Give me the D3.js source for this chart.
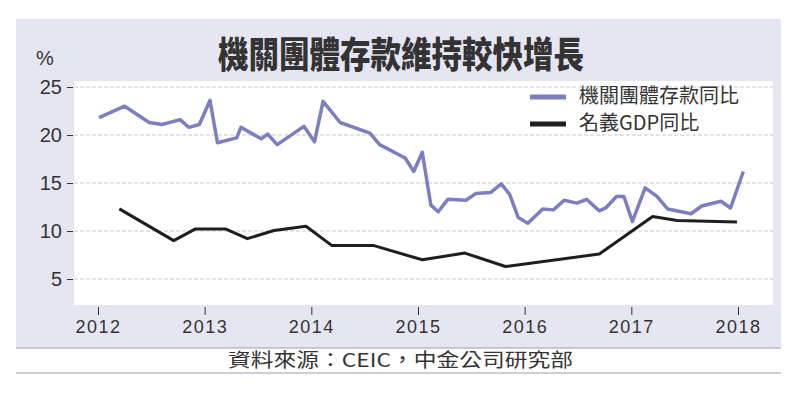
<!DOCTYPE html>
<html lang="zh-Hant">
<head>
    <meta charset="UTF-8">
    <title>機關團體存款維持較快增長</title>
    <script src="https://cdnjs.cloudflare.com/ajax/libs/d3/7.8.5/d3.min.js"></script>
    <style>
        body {
            margin: 0;
            background: #fff;
        }
        svg text {
            fill: #333;
        }
        .num {
            font-family: "Liberation Sans", Arial, sans-serif;
        }
        .cjk {
            font-family: "Noto Sans CJK TC", "Noto Sans CJK SC", sans-serif;
        }
    </style>
</head>
<body>
    <svg id="chart" width="800" height="394"></svg>

    <script>
        // 機關團體存款同比 (%)
        const depYear = [2012.01, 2012.25, 2012.48, 2012.60, 2012.77, 2012.85, 2012.95, 2013.05, 2013.12, 2013.30,
            2013.34, 2013.53, 2013.59, 2013.68, 2013.93, 2014.03, 2014.11, 2014.27, 2014.55, 2014.64,
            2014.88, 2014.96, 2015.04, 2015.12, 2015.19, 2015.28, 2015.45, 2015.54, 2015.68, 2015.78,
            2015.86, 2015.94, 2016.03, 2016.17, 2016.27, 2016.37, 2016.49, 2016.58, 2016.70, 2016.76,
            2016.86, 2016.93, 2017.01, 2017.13, 2017.24, 2017.34, 2017.56, 2017.66, 2017.84, 2017.93, 2018.05];
        const depVal = [21.8, 23.0, 21.3, 21.1, 21.6, 20.8, 21.1, 23.6, 19.2, 19.7,
            20.8, 19.6, 20.1, 19.0, 20.9, 19.3, 23.5, 21.3, 20.2, 19.0,
            17.6, 16.2, 18.2, 12.7, 12.0, 13.3, 13.2, 13.9, 14.0, 14.9,
            13.8, 11.4, 10.8, 12.3, 12.2, 13.2, 12.9, 13.3, 12.1, 12.4,
            13.6, 13.6, 11.0, 14.5, 13.6, 12.3, 11.8, 12.6, 13.1, 12.4, 16.2];

        // 名義GDP同比 (%)
        const gdpYear = [2012.20, 2012.71, 2012.91, 2013.20, 2013.40, 2013.65, 2013.95, 2014.19,
            2014.58, 2015.04, 2015.44, 2015.82, 2016.70, 2017.20, 2017.43, 2017.99];
        const gdpVal = [12.3, 9.0, 10.2, 10.2, 9.2, 10.05, 10.5, 8.5,
            8.5, 7.0, 7.7, 6.3, 7.6, 11.5, 11.1, 10.95];

        const xTicks = [2012, 2013, 2014, 2015, 2016, 2017, 2018];
        const yTicks = [5, 10, 15, 20, 25];

        const seriesNames = ["機關團體存款同比", "名義GDP同比"];
        const seriesColors = ["#7d7ec0", "#1e1e1e"];

        const svg = d3.select("#chart");

        // panel + plot frame
        const plot = { left: 74, right: 773, top: 81, bottom: 305 };

        svg.append("rect")
            .attr("x", 16).attr("y", 19)
            .attr("width", 765).attr("height", 329)
            .attr("fill", "#e6e6f2");

        svg.append("rect")
            .attr("x", plot.left).attr("y", plot.top)
            .attr("width", plot.right - plot.left).attr("height", plot.bottom - plot.top)
            .attr("fill", "#fff");

        const x = d3.scaleLinear().domain([2012, 2018]).range([98, 738]);
        const y = d3.scaleLinear().domain([5, 25]).range([279, 87]);

        // gridlines
        svg.append("g")
            .selectAll("line")
            .data(yTicks)
            .join("line")
            .attr("x1", plot.left).attr("x2", plot.right)
            .attr("y1", d => y(d)).attr("y2", d => y(d))
            .attr("stroke", "#c8c8cc")
            .attr("stroke-width", 1)
            .attr("stroke-dasharray", "4,2");

        // y axis
        const yAxis = svg.append("g")
            .attr("transform", `translate(${plot.left - 1},0)`)
            .call(d3.axisLeft(y).tickValues(yTicks).tickSize(6).tickPadding(5));
        yAxis.select(".domain").remove();
        yAxis.selectAll(".tick line").attr("stroke", "#333");
        yAxis.selectAll(".tick text")
            .attr("class", "num")
            .attr("font-size", 20)
            .attr("fill", "#333");

        // x axis
        const xAxis = svg.append("g")
            .attr("transform", `translate(0,${plot.bottom + 2})`)
            .call(d3.axisBottom(x).tickValues(xTicks).tickFormat(d3.format("d")).tickSize(8).tickPadding(5));
        xAxis.select(".domain").remove();
        xAxis.selectAll(".tick line").attr("stroke", "#333");
        xAxis.selectAll(".tick text")
            .attr("class", "num")
            .attr("font-size", 18)
            .attr("letter-spacing", 1.5)
            .attr("fill", "#333");

        // lines
        const line = d3.line()
            .x(d => x(d[0]))
            .y(d => y(d[1]));

        const depData = depYear.map((d, i) => [d, depVal[i]]);
        const gdpData = gdpYear.map((d, i) => [d, gdpVal[i]]);

        svg.append("path")
            .datum(gdpData)
            .attr("d", line)
            .attr("fill", "none")
            .attr("stroke", seriesColors[1])
            .attr("stroke-width", 3)
            .attr("stroke-linejoin", "round");

        svg.append("path")
            .datum(depData)
            .attr("d", line)
            .attr("fill", "none")
            .attr("stroke", seriesColors[0])
            .attr("stroke-width", 3.5)
            .attr("stroke-linejoin", "round");

        // legend
        const legend = svg.append("g");
        seriesNames.forEach((name, i) => {
            const ly = 97 + i * 27;
            legend.append("line")
                .attr("x1", 530).attr("x2", 566)
                .attr("y1", ly).attr("y2", ly)
                .attr("stroke", seriesColors[i])
                .attr("stroke-width", 5);
            legend.append("text")
                .attr("class", "cjk")
                .attr("x", 579).attr("y", ly + 1)
                .attr("dominant-baseline", "middle")
                .attr("font-size", 20)
                .text(name);
        });

        // % label
        svg.append("text")
            .attr("class", "num")
            .attr("x", 36).attr("y", 65)
            .attr("font-size", 20)
            .text("%");

        // title
        svg.append("text")
            .attr("class", "cjk")
            .attr("x", 218).attr("y", 68)
            .attr("font-size", 36)
            .attr("font-weight", 900)
            .attr("fill", "#222")
            .attr("textLength", 366)
            .attr("lengthAdjust", "spacingAndGlyphs")
            .text("機關團體存款維持較快增長");

        // footer
        svg.append("rect")
            .attr("x", 16).attr("y", 348)
            .attr("width", 765).attr("height", 25)
            .attr("fill", "#fff");
        [348, 373].forEach(ly => {
            svg.append("line")
                .attr("x1", 16).attr("x2", 781)
                .attr("y1", ly).attr("y2", ly)
                .attr("stroke", "#9c9cab")
                .attr("stroke-width", 1.2);
        });
        svg.append("text")
            .attr("class", "cjk")
            .attr("x", 228).attr("y", 367)
            .attr("font-size", 19)
            .attr("textLength", 345)
            .attr("lengthAdjust", "spacingAndGlyphs")
            .text("資料來源：CEIC，中金公司研究部");
    </script>
</body>
</html>
